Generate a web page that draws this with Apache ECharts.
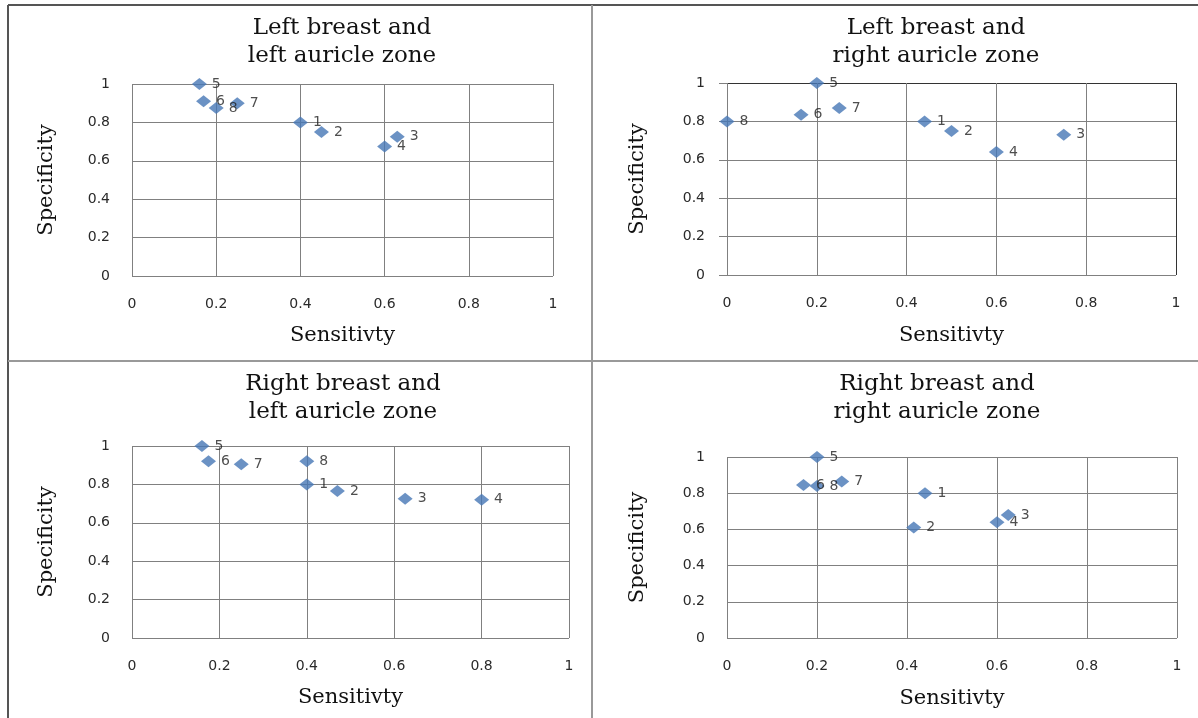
<!DOCTYPE html>
<html>
<head>
<meta charset="utf-8">
<script src="https://cdn.jsdelivr.net/npm/echarts@6/dist/echarts.min.js"></script>
<style>
  html, body { margin: 0; padding: 0; background: #fff; }
  #chart { width: 1198px; height: 718px; }
</style>
</head>
<body>
<div id="chart"></div>
<script>
// point ids (test number)
const pointNames = ['1', '2', '3', '4', '5', '6', '7', '8'];

const panelTitles = [
  'Left breast and\nleft auricle zone',
  'Left breast and\nright auricle zone',
  'Right breast and\nleft auricle zone',
  'Right breast and\nright auricle zone',
];

// sensitivity / specificity per panel, in order of pointNames
const lbLaSens = [0.40, 0.45, 0.63, 0.60, 0.16, 0.17, 0.25, 0.20];
const lbLaSpec = [0.80, 0.75, 0.725, 0.675, 1.00, 0.91, 0.90, 0.875];

const lbRaSens = [0.44, 0.50, 0.75, 0.60, 0.20, 0.165, 0.25, 0.00];
const lbRaSpec = [0.80, 0.75, 0.73, 0.64, 1.00, 0.835, 0.87, 0.80];

const rbLaSens = [0.40, 0.47, 0.625, 0.80, 0.16, 0.175, 0.25, 0.40];
const rbLaSpec = [0.80, 0.765, 0.725, 0.72, 1.00, 0.92, 0.905, 0.92];

const rbRaSens = [0.44, 0.415, 0.625, 0.60, 0.20, 0.17, 0.255, 0.20];
const rbRaSpec = [0.80, 0.61, 0.68, 0.64, 1.00, 0.845, 0.865, 0.84];

const xAxisName = 'Sensitivty';
const yAxisName = 'Specificity';
const axisMin = 0;
const axisMax = 1;
const axisStep = 0.2;

const panelSens = [lbLaSens, lbRaSens, rbLaSens, rbRaSens];
const panelSpec = [lbLaSpec, lbRaSpec, rbLaSpec, rbRaSpec];

// pixel layout of each plot area
const grids = [
  { left: 132, top: 84, width: 421, height: 192 },
  { left: 727, top: 83, width: 449, height: 192 },
  { left: 132, top: 446, width: 437, height: 192 },
  { left: 727, top: 457, width: 450, height: 181 },
];
const titlePos = [
  { left: 342, top: 14 },
  { left: 936, top: 14 },
  { left: 343, top: 370 },
  { left: 937, top: 370 },
];
const yNameGap = [75, 79, 75, 79];
const xNameGap = [49, 50, 49, 50];

const gridGray = '#808080';
const tickFont = { fontFamily: 'DejaVu Sans', fontSize: 14, color: '#2a2a2a' };
const serif = 'DejaVu Serif';

const chart = echarts.init(document.getElementById('chart'), null, { renderer: 'canvas' });

const option = {
  backgroundColor: '#fff',
  animation: false,
  title: panelTitles.map((t, i) => ({
    text: t,
    left: titlePos[i].left,
    top: titlePos[i].top,
    textAlign: 'center',
    padding: 0,
    textStyle: { fontFamily: serif, fontSize: 23, fontWeight: 'normal', color: '#111', lineHeight: 28 },
  })),
  grid: grids.map(g => ({ ...g, containLabel: false, show: false })),
  xAxis: grids.map((g, i) => ({
    type: 'value',
    gridIndex: i,
    min: axisMin,
    max: axisMax,
    interval: axisStep,
    name: xAxisName,
    nameLocation: 'middle',
    nameGap: xNameGap[i],
    nameTextStyle: { fontFamily: serif, fontSize: 21, color: '#111' },
    axisLine: { show: false },
    axisTick: { show: false },
    axisLabel: { ...tickFont, margin: 21 },
    splitLine: {
      show: true,
      lineStyle: {
        width: 1,
        color: i === 1 ? [gridGray, gridGray, gridGray, gridGray, gridGray, '#333'] : gridGray,
      },
    },
  })),
  yAxis: grids.map((g, i) => ({
    type: 'value',
    gridIndex: i,
    min: axisMin,
    max: axisMax,
    interval: axisStep,
    name: yAxisName,
    nameLocation: 'middle',
    nameGap: yNameGap[i],
    nameTextStyle: { fontFamily: serif, fontSize: 21, color: '#111' },
    axisLine: { show: false },
    axisTick: { show: i === 1, length: 8, lineStyle: { color: gridGray } },
    axisLabel: { ...tickFont, margin: 22 },
    splitLine: {
      show: true,
      lineStyle: {
        width: 1,
        color: i === 1 ? [gridGray, gridGray, gridGray, gridGray, gridGray, '#333'] : gridGray,
      },
    },
  })),
  series: panelSens.map((sens, i) => ({
    type: 'scatter',
    xAxisIndex: i,
    yAxisIndex: i,
    symbol: 'diamond',
    symbolSize: [15, 12],
    itemStyle: { color: '#4677b5' },
    label: {
      show: true,
      position: 'right',
      distance: 5,
      formatter: '{b}',
      fontFamily: 'DejaVu Sans',
      fontSize: 14,
      color: '#222',
    },
    data: sens.map((x, k) => ({ name: pointNames[k], value: [x, panelSpec[i][k]] })),
  })),
  graphic: [
    { type: 'line', shape: { x1: 8, y1: 5, x2: 1198, y2: 5 }, style: { stroke: '#555', lineWidth: 2 } },
    { type: 'line', shape: { x1: 8, y1: 5, x2: 8, y2: 718 }, style: { stroke: '#555', lineWidth: 2 } },
    { type: 'line', shape: { x1: 592, y1: 5, x2: 592, y2: 718 }, style: { stroke: '#999', lineWidth: 2 } },
    { type: 'line', shape: { x1: 8, y1: 361, x2: 1198, y2: 361 }, style: { stroke: '#999', lineWidth: 2 } },
  ],
};

chart.setOption(option);
</script>
</body>
</html>
